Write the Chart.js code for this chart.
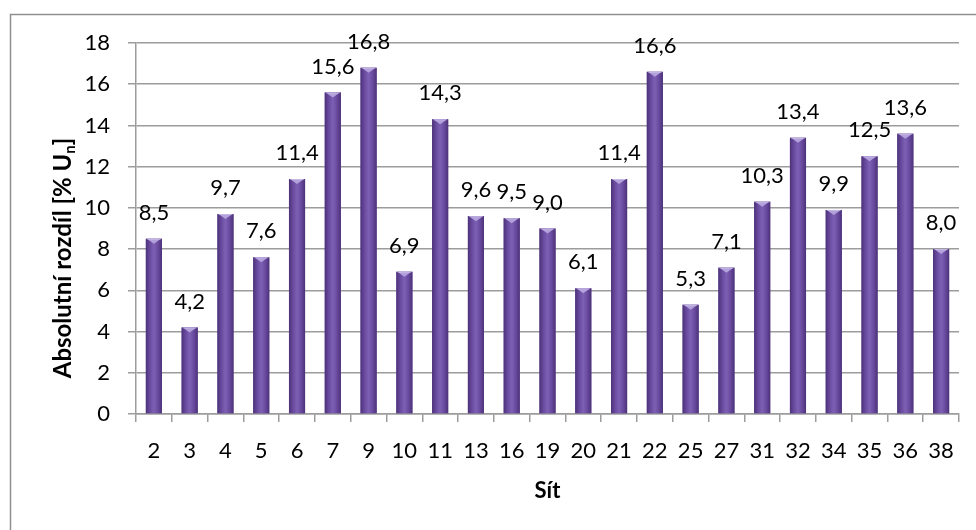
<!DOCTYPE html>
<html>
<head>
<meta charset="utf-8">
<script src="https://cdn.jsdelivr.net/npm/chart.js@4/dist/chart.umd.min.js"></script>
<style>
  html, body { margin: 0; padding: 0; background: #ffffff; }
  #wrap { width: 976px; height: 530px; position: relative; }
</style>
</head>
<body>
<div id="wrap"><canvas id="c"></canvas></div>
<script>
// Networks (Sít) and their absolute difference in % of Un
const categories = ['2', '3', '4', '5', '6', '7', '9', '10', '11', '13', '16', '19', '20', '21', '22', '25', '27', '31', '32', '34', '35', '36', '38'];
const values = [8.5, 4.2, 9.7, 7.6, 11.4, 15.6, 16.8, 6.9, 14.3, 9.6, 9.5, 9.0, 6.1, 11.4, 16.6, 5.3, 7.1, 10.3, 13.4, 9.9, 12.5, 13.6, 8.0];
const yAxisMin = 0;
const yAxisMax = 18;
const yAxisStep = 2;
const xTitle = 'Sít';
const yTitleMain = 'Absolutní rozdíl [% U';
const yTitleSub = 'n';
const yTitleEnd = ']';

const FONT = 'Lato, "Open Sans", sans-serif';
const FS = 22;
const GRID = '#9c9c9c';

const fmt = v => v.toFixed(1).replace('.', ',');

// outer frame of the chart object
const framePlugin = {
  id: 'frame',
  beforeDraw(chart) {
    const ctx = chart.ctx;
    ctx.save();
    ctx.fillStyle = '#ffffff';
    ctx.fillRect(0, 0, chart.width, chart.height);
    ctx.strokeStyle = '#8f8f8f';
    ctx.lineWidth = 1.5;
    ctx.beginPath();
    ctx.moveTo(10.5, chart.height);
    ctx.lineTo(10.5, 14.5);
    ctx.lineTo(chart.width, 14.5);
    ctx.stroke();
    ctx.restore();
  }
};

// shaded cylinder-like bars with a bevelled top, plus value labels
const barStylePlugin = {
  id: 'barStyle',
  afterDatasetsDraw(chart) {
    const ctx = chart.ctx;
    const meta = chart.getDatasetMeta(0);
    ctx.save();
    meta.data.forEach((el, i) => {
      const { x, y, base, width } = el.getProps(['x', 'y', 'base', 'width'], true);
      const left = x - width / 2;
      const right = x + width / 2;
      const g = ctx.createLinearGradient(left, 0, right, 0);
      g.addColorStop(0, '#4c3278');
      g.addColorStop(0.25, '#694a9f');
      g.addColorStop(0.5, '#7d60b3');
      g.addColorStop(0.75, '#694a9f');
      g.addColorStop(1, '#4c3278');
      ctx.fillStyle = g;
      ctx.fillRect(left, y, width, base - y);
      // top bevel
      ctx.fillStyle = '#b3a1dc';
      ctx.beginPath();
      ctx.moveTo(left + 1, y);
      ctx.lineTo(right - 1, y);
      ctx.lineTo(x, y + 5);
      ctx.closePath();
      ctx.fill();
      ctx.fillStyle = 'rgba(255,255,255,0.25)';
      ctx.fillRect(left + 1, y, width - 2, 1);

      // value label
      ctx.fillStyle = '#000000';
      ctx.font = FS + 'px ' + FONT;
      ctx.textAlign = 'center';
      ctx.textBaseline = 'middle';
      ctx.fillText(fmt(values[i]), x, y - 26);
    });
    ctx.restore();
  }
};

// vertical axis title with a subscript
const yTitlePlugin = {
  id: 'yTitle',
  afterDraw(chart) {
    const ctx = chart.ctx;
    ctx.save();
    const big = 'bold 24px ' + FONT;
    const small = 'bold 15px ' + FONT;
    ctx.font = big;
    const w1 = ctx.measureText(yTitleMain).width;
    const w3 = ctx.measureText(yTitleEnd).width;
    ctx.font = small;
    const w2 = ctx.measureText(yTitleSub).width;
    const total = w1 + w2 + w3;
    ctx.translate(63, 258);
    ctx.rotate(-Math.PI / 2);
    ctx.fillStyle = '#000000';
    ctx.textBaseline = 'middle';
    ctx.textAlign = 'left';
    let cx = -total / 2;
    ctx.font = big;
    ctx.fillText(yTitleMain, cx, 0);
    cx += w1;
    ctx.font = small;
    ctx.fillText(yTitleSub, cx, 7);
    cx += w2;
    ctx.font = big;
    ctx.fillText(yTitleEnd, cx, 0);
    ctx.restore();
  }
};

new Chart(document.getElementById('c'), {
  type: 'bar',
  data: {
    labels: categories,
    datasets: [{
      data: values,
      backgroundColor: '#6a4a9e',
      borderWidth: 0,
      barPercentage: 0.45,
      categoryPercentage: 1.0
    }]
  },
  options: {
    responsive: true,
    maintainAspectRatio: false,
    animation: false,
    devicePixelRatio: 1,
    layout: { padding: { left: 10, top: 43, right: 17, bottom: 0 } },
    plugins: {
      legend: { display: false },
      tooltip: { enabled: false },
      title: { display: false }
    },
    scales: {
      x: {
        offset: true,
        afterFit(scale) { scale.height = 116; },
        grid: {
          offset: true,
          drawOnChartArea: false,
          drawTicks: true,
          tickLength: 8,
          color: GRID,
          lineWidth: 1.5
        },
        border: { display: true, color: GRID, width: 1.5 },
        ticks: {
          color: '#000000',
          font: { family: FONT, size: FS },
          padding: 16,
          maxRotation: 0,
          autoSkip: false
        },
        title: {
          display: true,
          text: xTitle,
          color: '#000000',
          font: { family: FONT, size: FS, weight: 'bold' },
          padding: { top: 0, bottom: 26 }
        }
      },
      y: {
        min: yAxisMin,
        max: yAxisMax,
        afterFit(scale) { scale.width = 126; },
        grid: {
          color: GRID,
          lineWidth: 1.5,
          tickLength: 8,
          drawTicks: true
        },
        border: { display: true, color: GRID, width: 1.5 },
        ticks: {
          stepSize: yAxisStep,
          color: '#000000',
          font: { family: FONT, size: FS },
          padding: 18
        }
      }
    }
  },
  plugins: [framePlugin, barStylePlugin, yTitlePlugin]
});
</script>
</body>
</html>
